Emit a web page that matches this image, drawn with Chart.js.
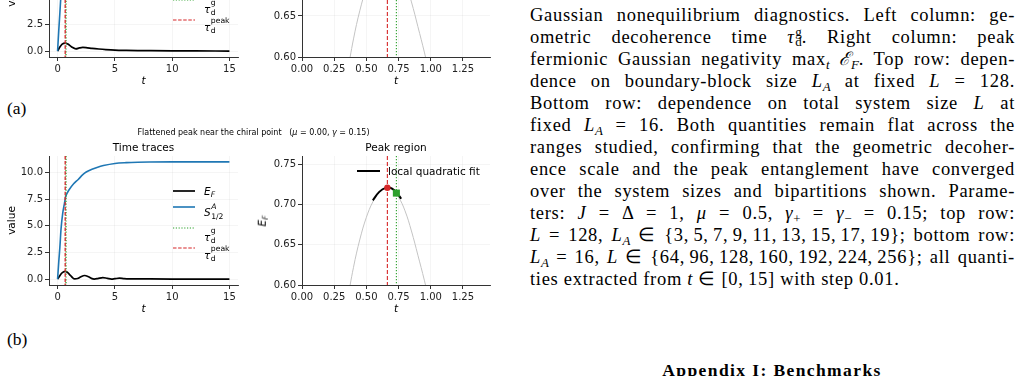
<!DOCTYPE html>
<html>
<head>
<meta charset="utf-8">
<title>Flattened peak near the chiral point</title>
<script src="https://cdn.jsdelivr.net/npm/chart.js@4.4.1/dist/chart.umd.min.js"></script>
<style>
  html, body { margin: 0; padding: 0; background: #fff; }
  body { width: 1026px; height: 376px; position: relative; overflow: hidden; }
  canvas { position: absolute; }
  .t { position: absolute; white-space: nowrap; color: #000; font-family: 'DejaVu Sans', sans-serif; line-height: 1; }
  .mid { transform: translate(-50%, -50%); }
  .lt { position: absolute; white-space: nowrap; font-family: 'DejaVu Sans', sans-serif; font-size: 10.5px; height: 12px; line-height: 12px; }
  .sb { font-size: 73%; vertical-align: -0.27em; line-height: 0; }
  .ss { display: inline-flex; flex-direction: column; font-size: 73%; line-height: 10px; margin-left: 0.5px; }
  .lg { position: absolute; overflow: visible; }
  .serif { font-family: 'Liberation Serif', serif; font-size: 17.5px; }
  .cap { position: absolute; left: 530px; top: 4px; width: 485px; font-family: 'Liberation Serif', serif; font-size: 18.5px; line-height: 22px; letter-spacing: 0.7px; }
  .cap div { white-space: nowrap; text-align: justify; text-align-last: justify; height: 22px; }
  .cap div.last { text-align-last: left; }
  .cap sub { font-size: 70%; line-height: 0; vertical-align: -0.3em; letter-spacing: 0; }
  .cap .ss { line-height: 10px; font-size: 70%; letter-spacing: 0; }
</style>
</head>
<body>
<script>
// shared markers (peak region)
const tauPeak = 0.663;
const tauG = 0.733;
const efMax = 0.7206;
const efAtTauG = 0.714;

// row (a): time traces
const tTraceA = [0, 0.2, 0.4, 0.67, 0.9, 1.2, 1.6, 1.9, 2.2, 2.6, 3.0, 3.6, 4.2, 5, 6, 7, 8, 10, 12, 15];
const efTraceA = [0, 0.38, 0.65, 0.76, 0.66, 0.42, 0.22, 0.3, 0.35, 0.31, 0.26, 0.2, 0.15, 0.1, 0.07, 0.05, 0.04, 0.025, 0.02, 0.01];
const tEntA = [0, 0.1, 0.2, 0.3, 0.45, 0.6, 0.8, 1.0, 1.5, 2, 3, 4, 5, 7, 10, 15];
const sEntA = [0, 1.9, 3.6, 5.3, 6.7, 7.6, 8.3, 8.7, 9.3, 9.7, 10.2, 10.5, 10.7, 10.9, 11.0, 11.0];

// row (b): time traces
const tTraceB = [0, 0.15, 0.35, 0.5, 0.66, 0.85, 1.05, 1.25, 1.5, 1.75, 2.0, 2.35, 2.7, 2.95, 3.2, 3.5, 3.95, 4.35, 4.7, 5.0, 5.4, 5.8, 6.3, 7, 8, 10, 12, 15];
const efTraceB = [0, 0.25, 0.55, 0.68, 0.72, 0.64, 0.43, 0.2, 0.02, 0.06, 0.2, 0.34, 0.22, 0.07, 0.01, 0.05, 0.15, 0.07, 0.01, 0.04, 0.09, 0.04, 0.02, 0.03, 0.02, 0.01, 0.01, 0.01];
const tEntB = [0, 0.1, 0.2, 0.3, 0.45, 0.6, 0.7, 0.85, 1.05, 1.4, 1.8, 2.2, 2.5, 3.0, 3.5, 4.0, 5.0, 6.0, 7.0, 8.0, 10.0, 12.0, 15.0];
const sEntB = [0, 1.6, 3.0, 4.7, 6.2, 7.1, 7.7, 8.1, 8.45, 8.95, 9.35, 9.8, 10.05, 10.3, 10.5, 10.65, 10.85, 10.93, 10.97, 10.99, 11.0, 11.0, 11.0];

// peak region (same in both rows)
const tPeak = [0.30, 0.35, 0.40, 0.45, 0.50, 0.55, 0.60, 0.65, 0.70, 0.75, 0.80, 0.85, 0.90, 0.95, 1.00, 1.05];
const efPeak = [0.53, 0.578, 0.622, 0.657, 0.684, 0.703, 0.715, 0.7203, 0.7185, 0.709, 0.692, 0.667, 0.637, 0.606, 0.572, 0.535];
const tFit = [0.55, 0.60, 0.65, 0.70, 0.75, 0.77];
const efFit = [0.705, 0.7155, 0.7205, 0.7195, 0.7115, 0.707];

// ticks
const traceXTicks = [0, 5, 10, 15];
const traceYTicks = [0, 2.5, 5, 7.5, 10];
const peakXTicks = [0, 0.25, 0.5, 0.75, 1.0, 1.25];
const peakYTicks = [0.60, 0.65, 0.70, 0.75];

Chart.defaults.font.family = "'DejaVu Sans', sans-serif";
Chart.defaults.color = '#222';

const vlinePlugin = {
  id: 'vlines',
  beforeDatasetsDraw(chart, args, opts) { if (opts.layer === 'before') drawV(chart, opts.lines); },
  afterDatasetsDraw(chart, args, opts) { if (opts.layer !== 'before') drawV(chart, opts.lines); }
};
function drawV(chart, lines) {
  const { ctx, chartArea: a, scales: { x } } = chart;
  (lines || []).forEach(l => {
    const px = x.getPixelForValue(l.value);
    ctx.save();
    ctx.beginPath();
    ctx.strokeStyle = l.color;
    ctx.lineWidth = l.width;
    ctx.setLineDash(l.dash);
    ctx.moveTo(px, a.top);
    ctx.lineTo(px, a.bottom);
    ctx.stroke();
    ctx.restore();
  });
}

function pts(xs, ys) { return xs.map((x, i) => ({ x: x, y: ys[i] })); }

function addCanvas(left, top, w, h) {
  const c = document.createElement('canvas');
  c.width = w; c.height = h;
  c.style.left = left + 'px'; c.style.top = top + 'px';
  c.style.width = w + 'px'; c.style.height = h + 'px';
  document.body.appendChild(c);
  return c;
}

function axis(min, max, ticks, digits, fit, title) {
  return {
    type: 'linear', min: min, max: max,
    afterBuildTicks: s => { s.ticks = ticks.map(v => ({ value: v })); },
    afterFit: fit,
    ticks: { callback: v => Number(v).toFixed(digits), font: { size: 10 }, padding: 2, maxRotation: 0, autoSkip: false, color: '#222' },
    grid: { color: 'rgba(0,0,0,0.05)', lineWidth: 0.8, tickColor: '#333', tickLength: 4, tickWidth: 1 },
    border: { display: true, color: '#333', width: 1 },
    title: title || { display: false }
  };
}

const tTitle = { display: true, text: 't', font: { size: 10.5, style: 'italic' }, padding: 0, color: '#000' };

function traceChart(top, t, ef, tS, s) {
  new Chart(addCanvas(0, top, 245, 196), {
    type: 'line',
    data: { datasets: [
      { data: pts(tS, s), borderColor: '#1f77b4', borderWidth: 1.6, pointRadius: 0, cubicInterpolationMode: 'monotone' },
      { data: pts(t, ef), borderColor: '#000', borderWidth: 1.7, pointRadius: 0, cubicInterpolationMode: 'monotone' }
    ] },
    options: {
      responsive: false, animation: false, devicePixelRatio: 1, events: [],
      layout: { padding: { left: 6, top: 36, right: 7, bottom: 0 }, autoPadding: false },
      plugins: {
        legend: { display: false }, tooltip: { enabled: false },
        vlines: { layer: 'after', lines: [
          { value: tauG, color: '#2ca02c', dash: [1.2, 1.6], width: 1.3 },
          { value: tauPeak, color: '#d62728', dash: [3.5, 1.6], width: 1.3 }
        ] }
      },
      scales: {
        x: axis(-0.75, 15.75, traceXTicks, 0, sc => { sc.height = 31; }, tTitle),
        y: axis(-0.55, 11.55, traceYTicks, 1, sc => { sc.width = 43; },
          { display: true, text: 'value', font: { size: 10.5 }, padding: 0, color: '#000' })
      }
    },
    plugins: [vlinePlugin]
  });
}

function peakChart(top, yMax) {
  new Chart(addCanvas(250, top, 250, 196), {
    type: 'line',
    data: { datasets: [
      { data: [{ x: tauG, y: efAtTauG }], showLine: false, pointStyle: 'rect', pointRadius: 5, backgroundColor: '#2ca02c', borderWidth: 0 },
      { data: [{ x: tauPeak, y: efMax }], showLine: false, pointStyle: 'circle', pointRadius: 3.2, backgroundColor: '#d62728', borderWidth: 0 },
      { data: pts(tFit, efFit), borderColor: '#000', borderWidth: 2, pointRadius: 0, tension: 0.4 },
      { data: pts(tPeak, efPeak), borderColor: '#c4c4c4', borderWidth: 1, pointRadius: 0, tension: 0.4 }
    ] },
    options: {
      responsive: false, animation: false, devicePixelRatio: 1, events: [],
      layout: { padding: { left: 0, top: 36, right: 10, bottom: 0 }, autoPadding: false },
      plugins: {
        legend: { display: false }, tooltip: { enabled: false },
        vlines: { layer: 'before', lines: [
          { value: tauPeak, color: '#d62728', dash: [4, 2], width: 1.1 },
          { value: tauG, color: '#2ca02c', dash: [1.2, 1.8], width: 1.1 }
        ] }
      },
      scales: {
        x: axis(0, 1.46, peakXTicks, 2, sc => { sc.height = 31; }, tTitle),
        y: axis(0.60, yMax, peakYTicks, 2, sc => { sc.width = 52; })
      }
    },
    plugins: [vlinePlugin]
  });
}

// row offset between (a) and (b)
const DY = 228;
traceChart(120 - DY, tTraceA, efTraceA, tEntA, sEntA);
peakChart(120 - DY, 0.757);
traceChart(120, tTraceB, efTraceB, tEntB, sEntB);
peakChart(120, 0.76);

function put(html) { document.body.insertAdjacentHTML('beforeend', html); }

function legendLine(x1, x2, y, color, width, dash) {
  const w = x2 - x1;
  put(`<svg class="lg" style="left:${x1}px;top:${y - 4}px" width="${w}" height="8"><line x1="0" y1="4" x2="${w}" y2="4" stroke="${color}" stroke-width="${width}" stroke-dasharray="${dash}"/></svg>`);
}
function legendText(x, baseline, html) {
  put(`<div class="lt" style="left:${x}px;top:${baseline - 9.65}px">${html}</div>`);
}

const tauG_html = '<i>τ</i><span class="ss" style="vertical-align:8px"><span>g</span><span>d</span></span>';
const tauP_html = '<i>τ</i><span class="ss" style="vertical-align:7.5px"><span>peak</span><span>d</span></span>';

function traceLegend(dy) {
  legendLine(173, 195, 190.7 - dy, '#000', 1.7, '');
  legendText(204, 194.5 - dy, '<i>E</i><span class="sb"><i>F</i></span>');
  legendLine(173, 195, 207.3 - dy, '#1f77b4', 1.6, '');
  legendText(204, 211.7 - dy, '<i>S</i><span class="ss" style="vertical-align:7px"><span><i>A</i></span><span>1/2</span></span>');
  legendLine(173, 195, 227.7 - dy, '#2ca02c', 1.2, '1.2 1.6');
  legendText(204, 235.5 - dy, tauG_html);
  legendLine(173, 195, 248.3 - dy, '#d62728', 1.2, '3.5 1.6');
  legendText(204, 253.5 - dy, tauP_html);
}
traceLegend(DY);
traceLegend(0);

// peak legend (only row (b) is on screen)
legendLine(357, 380, 170.7, '#000', 2, '');
legendText(388, 174.5, 'local quadratic fit');

// titles and labels of row (b)
put('<div class="t mid" style="left:253.5px;top:132.5px;font-size:8px;white-space:pre">Flattened peak near the chiral point   (<i>μ</i> = 0.00, <i>γ</i> = 0.15)</div>');
put('<div class="t mid" style="left:143.5px;top:147px;font-size:10.5px">Time traces</div>');
put('<div class="t mid" style="left:396px;top:147px;font-size:10.5px">Peak region</div>');
put('<div class="t" style="left:262px;top:220.5px;font-size:10.5px;transform:translate(-50%,-50%) rotate(-90deg)"><i>E</i><span class="sb"><i>F</i></span></div>');

// panel tags
put('<div class="t serif" style="left:7px;top:109px;transform:translateY(-50%)">(a)</div>');
put('<div class="t serif" style="left:7px;top:340px;transform:translateY(-50%)">(b)</div>');

// caption column
const captionLines = [
  'Gaussian nonequilibrium diagnostics. Left column: ge-',
  'ometric decoherence time <i>τ</i><span class="ss" style="vertical-align:7px"><span>g</span><span>d</span></span>. Right column: peak',
  'fermionic Gaussian negativity max<sub><i>t</i></sub> <i>ℰ</i><sub><i>F</i></sub>. Top row: depen-',
  'dence on boundary-block size <i>L</i><sub><i>A</i></sub> at fixed <i>L</i> = 128.',
  'Bottom row: dependence on total system size <i>L</i> at',
  'fixed <i>L</i><sub><i>A</i></sub> = 16. Both quantities remain flat across the',
  'ranges studied, confirming that the geometric decoher-',
  'ence scale and the peak entanglement have converged',
  'over the system sizes and bipartitions shown. Parame-',
  'ters: <i>J</i> = Δ = 1, <i>μ</i> = 0.5, <i>γ</i><sub>+</sub> = <i>γ</i><sub>−</sub> = 0.15; top row:',
  '<i>L</i> = 128, <i>L</i><sub><i>A</i></sub> ∈ {3,\u20095,\u20097,\u20099,\u200911,\u200913,\u200915,\u200917,\u200919}; bottom row:',
  '<i>L</i><sub><i>A</i></sub> = 16, <i>L</i> ∈ {64,\u200996,\u2009128,\u2009160,\u2009192,\u2009224,\u2009256}; all quanti-',
  'ties extracted from <i>t</i> ∈ [0,\u200915] with step 0.01.'
];
put('<div class="cap">' + captionLines.map((l, i) =>
  `<div${i === captionLines.length - 1 ? ' class="last"' : ''}>${l}</div>`).join('') + '</div>');

put('<div class="t serif" style="left:772px;top:376px;font-weight:bold;letter-spacing:1.4px;transform:translate(-50%,-80%)">Appendix I: Benchmarks</div>');
</script>
</body>
</html>
